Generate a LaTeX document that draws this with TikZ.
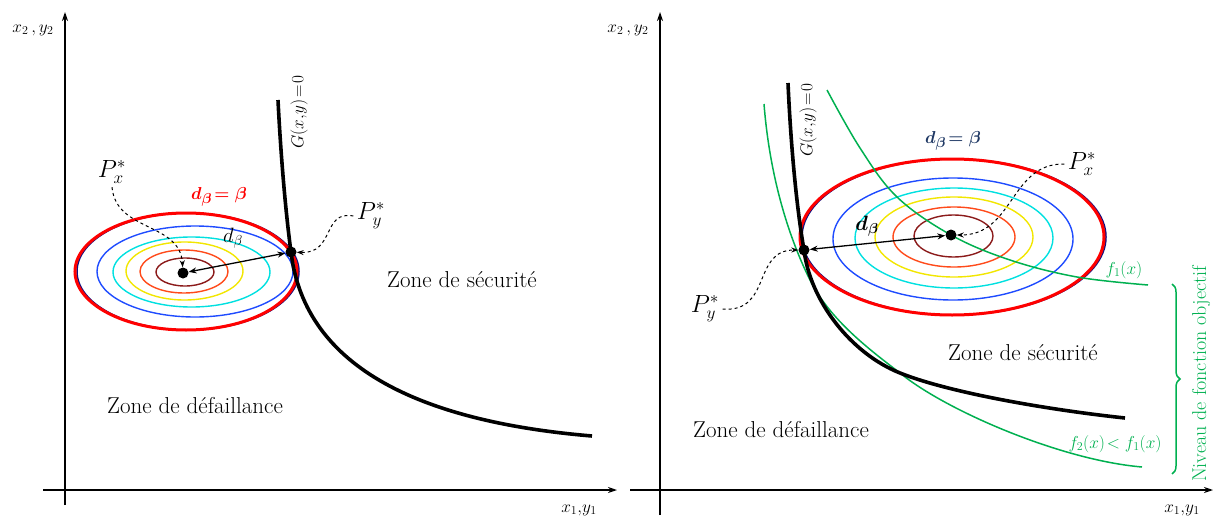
\documentclass[tikz,border=0pt]{standalone}
\usepackage{amsmath}
\usepackage{fontspec}
\usetikzlibrary{arrows.meta,decorations.pathreplacing}
\definecolor{cgreen}{HTML}{00B050}
\definecolor{cblue}{HTML}{1E4BFF}
\definecolor{ccyan}{HTML}{00E0E0}
\definecolor{cyel}{HTML}{F2E600}
\definecolor{corange}{HTML}{FF4A1A}
\definecolor{cmaroon}{HTML}{8B1A1A}
\definecolor{cnavy}{HTML}{1F3864}
\definecolor{cdblue}{HTML}{101080}
\begin{document}
\begin{tikzpicture}[x=1pt,y=-1pt,
  ax/.style={line width=1.3pt,-{Stealth[length=9pt,width=6pt]}},
  gcurve/.style={line width=3.6pt},
  cont/.style={line width=1.4pt},
  redell/.style={draw=red,line width=3pt},
  gline/.style={draw=cgreen,line width=1.5pt},
  dot/.style={circle,fill=black,inner sep=0pt,minimum size=11pt},
  dbl/.style={line width=1.3pt,{Stealth[length=8pt,width=6pt]}-{Stealth[length=8pt,width=6pt]}},
  dsh/.style={dashed,line width=1pt,-{Stealth[length=7pt,width=5pt]}},
  zone/.style={font=\fontsize{23}{27}\selectfont},
  axlbl/.style={font=\fontsize{18}{21}\selectfont},
  plbl/.style={font=\fontsize{23}{27}\selectfont},
  glbl/.style={font=\fontsize{19}{22}\selectfont,rotate=90},
  flbl/.style={font=\fontsize{17}{20}\selectfont,text=cgreen},
  ttl/.style={font=\fontsize{19}{22}\selectfont\boldmath}]
\useasboundingbox (0,0) rectangle (1215,519);

% ---------------- Left panel ----------------
\coordinate (ly0) at (65,505); \coordinate (ly1) at (65,12);
\coordinate (lx0) at (43,490); \coordinate (lx1) at (617,490);
\draw[ax] (ly0) -- (ly1);
\draw[ax] (lx0) -- (lx1);
\node[axlbl] (lyl) at (33,30) {$x_2\,,y_2$};
\node[axlbl] (lxl) at (579,510) {$x_1{,}y_1$};

% contours
\draw[cont,draw=cmaroon] (185,272) ellipse [x radius=29pt, y radius=14pt];
\draw[cont,draw=corange] (184,271.5) ellipse [x radius=44pt, y radius=21.5pt];
\draw[cont,draw=cyel] (184.5,271) ellipse [x radius=58.5pt, y radius=29pt];
\draw[cont,draw=ccyan] (191.5,272) ellipse [x radius=78.5pt, y radius=35pt];
\draw[cont,draw=cblue] (195,271.5) ellipse [x radius=98pt, y radius=45.5pt];
\draw[line width=1.5pt,draw=cdblue] (188,271.5) ellipse [x radius=111pt, y radius=58.5pt];
\draw[redell] (186,271.5) ellipse [x radius=111pt, y radius=58.5pt];

% limit state curve
\coordinate (g1a) at (278,100); \coordinate (g1e) at (592,436);
\node[dot] (px1) at (183,273) {};
\node[dot] (py1) at (291,252) {};
\draw[gcurve] (g1a) .. controls (281,160) and (286,215) .. (py1.center)
  .. controls (305,370) and (425,422) .. (g1e);
\node[glbl] (gl1) at (299,112) {$G(x{,}y)\!=\!0$};

\draw[dbl] (px1) -- (py1);
\node[font=\fontsize{20}{23}\selectfont] (db1) at (233,238) {$d_\beta$};
\node[ttl,text=red] (t1) at (219,197) {$d_\beta\!=\beta$};

\node[plbl] (pxl1) at (112,172) {$P_x^*$};
\draw[dsh] (pxl1.south) .. controls (116,232) and (180,222) .. (px1);
\node[plbl] (pyl1) at (371,216) {$P_y^*$};
\draw[dsh] (pyl1.west) .. controls (322,210) and (335,254) .. (py1);

\node[zone] (zs1) at (462,280) {Zone de sécurité};
\node[zone] (zd1) at (195,406) {Zone de défaillance};

% ---------------- Right panel ----------------
\coordinate (ry0) at (660,515); \coordinate (ry1) at (660,12);
\coordinate (rx0) at (630,490); \coordinate (rx1) at (1213,490);
\draw[ax] (ry0) -- (ry1);
\draw[ax] (rx0) -- (rx1);
\node[axlbl] (ryl) at (628,30) {$x_2\,,y_2$};
\node[axlbl] (rxl) at (1182,510) {$x_1{,}y_1$};

\draw[cont,draw=cmaroon] (953.5,236) ellipse [x radius=39.5pt, y radius=21pt];
\draw[cont,draw=corange] (954,237) ellipse [x radius=61pt, y radius=30pt];
\draw[cont,draw=cyel] (954,237) ellipse [x radius=79pt, y radius=40pt];
\draw[cont,draw=ccyan] (954,238) ellipse [x radius=99pt, y radius=50pt];
\draw[cont,draw=cblue] (953,239) ellipse [x radius=120pt, y radius=61pt];
\draw[line width=1.5pt,draw=cdblue] (954,237) ellipse [x radius=152pt, y radius=78pt];
\draw[redell] (952,237) ellipse [x radius=152pt, y radius=78pt];

% green iso-objective curves
\draw[gline] plot[smooth,tension=0.6] coordinates {(827,90) (860,148) (897,197) (951,235) (1010,260) (1077,277) (1148,285)};
\coordinate (f2a) at (764,104); \coordinate (f2b) at (810,280);
\coordinate (f2c) at (900,373); \coordinate (f2e) at (1142,467);
\draw[gline] (f2a) .. controls (770,180) and (790,240) .. (f2b)
  .. controls (830,320) and (870,350) .. (f2c)
  .. controls (945,410) and (1060,460) .. (f2e);

\node[dot] (py2) at (804,250) {};
\node[dot] (px2) at (951,235) {};
\coordinate (g2a) at (788,83); \coordinate (g2c) at (900,373); \coordinate (g2e) at (1125,418);
\draw[gcurve] (g2a) .. controls (791,150) and (797,210) .. (py2.center)
  .. controls (810,300) and (850,353) .. (g2c)
  .. controls (950,393) and (1050,410) .. (g2e);
\node[glbl] (gl2) at (808,120) {$G(x{,}y)\!=\!0$};

\draw[dbl] (py2) -- (px2);
\node[font=\fontsize{20}{23}\selectfont\boldmath] (db2) at (867,226) {$d_\beta$};
\node[ttl,text=cnavy] (t2) at (953,141) {$d_\beta\!=\beta$};

\node[plbl] (pxl2) at (1082,164) {$P_x^*$};
\draw[dsh] (pxl2.west) .. controls (1010,163) and (1014,235) .. (px2);
\node[plbl] (pyl2) at (705,309) {$P_y^*$};
\draw[dsh] (pyl2.east) .. controls (772,313) and (752,250) .. (py2);

\node[flbl] (f1) at (1124,270) {$f_1(x)$};
\node[flbl] (f2) at (1115,444) {$f_2(x)\!<f_1(x)$};

\coordinate (bt) at (1172,284); \coordinate (bb) at (1172,474);
\draw[draw=cgreen,line width=1.5pt,decorate,decoration={brace,amplitude=8pt}] (bt) -- (bb);
\node[font=\fontsize{20}{23}\selectfont,text=cgreen,rotate=90] (niv) at (1201,374) {Niveau de fonction objectif};

\node[zone] (zs2) at (1023,353) {Zone de sécurité};
\node[zone] (zd2) at (781,430) {Zone de défaillance};
\end{tikzpicture}
\end{document}
